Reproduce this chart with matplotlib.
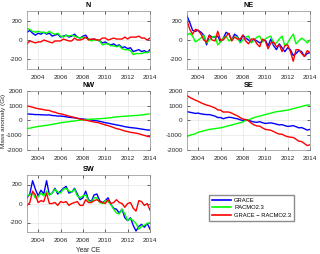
import numpy as np
import matplotlib
matplotlib.use('Agg')
import matplotlib.pyplot as plt

plt.rcParams['font.family'] = ['Liberation Sans', 'DejaVu Sans']
plt.rcParams['font.size'] = 4.6

# quarterly sampling 2003.0 .. 2014.0
years = np.arange(2003.0, 2014.01, 0.25)

# GRACE and RACMO2.3 mass anomalies (Gt)
N_grace = [80, 100, 70, 50, 70, 60, 80, 60, 70, 40, 50, 60, 30, 40, 50, 30,
           40, 60, 30, 20, 40, 50, 10, 0, 10, 0, -10, -30, -20, -40, -50, -40,
           -60, -50, -80, -70, -90, -80, -120, -110, -100, -120, -110, -130, -100]
N_racmo = [120, 110, 90, 80, 90, 80, 80, 70, 90, 70, 60, 70, 40, 30, 50, 40,
           50, 40, 30, 20, 30, 20, 10, -10, 0, 0, -10, -50, -40, -40, -60, -60,
           -70, -60, -90, -100, -100, -110, -150, -140, -140, -140, -130, -130, -120]

NE_grace = [250, 180, 100, 90, 100, 80, 50, -50, 50, 30, 30, 40, -20, 20, 80, 60,
            0, 60, 40, -20, 50, 20, 0, -20, 10, -10, -30, -10, 0, -60, 10, -60,
            -100, -40, -80, -120, -80, -100, -160, -140, -110, -120, -170, -140, -130]
NE_racmo = [50, 70, 40, -20, 0, 20, 50, -30, 0, 30, 40, -50, -20, 20, 40, -10,
            10, 30, 30, -30, 0, 30, 40, -30, 0, 30, 40, -20, 10, 30, 40, -40,
            -30, 10, 40, -60, -30, 20, 60, -40, -10, 20, 0, -30, 0]

NW_grace = [450, 430, 420, 400, 400, 390, 380, 370, 380, 340, 330, 300, 300, 280, 250, 220,
            200, 180, 150, 120, 100, 80, 60, 30, 0, -20, -60, -100, -150, -180, -220, -260,
            -300, -330, -370, -420, -450, -480, -500, -520, -550, -580, -610, -640, -650]
NW_racmo = [-550, -520, -480, -440, -400, -380, -350, -330, -300, -260, -230, -190, -150, -130, -100, -80,
            -50, -30, 0, 20, 50, 60, 80, 90, 100, 110, 120, 140, 150, 170, 190, 220,
            250, 260, 280, 290, 300, 320, 330, 340, 350, 380, 400, 430, 450]

SE_grace = [600, 560, 520, 480, 500, 450, 420, 400, 400, 350, 300, 200, 200, 120, 180, 220,
            200, 150, 120, 50, 0, 60, 30, -60, -100, -120, -80, -150, -200, -180, -160, -200,
            -250, -300, -280, -350, -400, -380, -350, -420, -500, -480, -560, -650, -600]
SE_racmo = [-1100, -1000, -950, -900, -800, -750, -700, -650, -600, -580, -550, -520, -500, -450, -400, -350,
            -300, -250, -200, -150, -100, 0, 50, 120, 200, 250, 300, 350, 400, 450, 500, 550,
            600, 620, 650, 680, 700, 750, 800, 850, 900, 950, 1000, 1050, 1050]

SW_grace = [60, 100, 240, 150, 80, 140, 100, 240, 90, 110, 160, 100, 130, 160, 180, 110,
            120, 160, 100, 40, 60, 130, 40, 20, 90, 100, 30, 10, 30, 60, -10, -50,
            -60, -100, -60, -150, -180, -150, -230, -290, -240, -220, -250, -210, -270]
SW_racmo = [80, 90, 110, 60, 70, 110, 80, 130, 90, 110, 150, 120, 110, 150, 160, 130,
            120, 150, 80, 60, 80, 90, 30, 10, 60, 60, 10, 0, 30, 20, -10, -60,
            -100, -110, -60, -110, -180, -160, -180, -210, -270, -240, -230, -210, -200]

regions = ['N', 'NE', 'NW', 'SE', 'SW']
grace = [N_grace, NE_grace, NW_grace, SE_grace, SW_grace]
racmo = [N_racmo, NE_racmo, NW_racmo, SE_racmo, SW_racmo]
ylims = [300, 300, 2000, 2000, 300]
yticks = [[-200, 0, 200], [-200, 0, 200], [-2000, -1000, 0, 1000, 2000],
          [-2000, -1000, 0, 1000, 2000], [-200, 0, 200]]

fig = plt.figure(figsize=(3.2, 2.54), dpi=100)
W, H = 320.0, 254.0
cols = [27, 187]
rows = [(11, 69), (91, 150), (175, 232)]

tick_col = '#262626'
handles = []
for i, reg in enumerate(regions):
    c = cols[i % 2]
    top, bot = rows[i // 2]
    ax = fig.add_axes([c / W, 1 - bot / H, 123 / W, (bot - top) / H])
    g = np.array(grace[i], dtype=float)
    r = np.array(racmo[i], dtype=float)
    h1, = ax.plot(years, g, color='#0000ff', lw=1.0)
    h2, = ax.plot(years, r, color='#00ff00', lw=1.0)
    h3, = ax.plot(years, g - r, color='#ff0000', lw=1.0)
    handles = [h1, h2, h3]
    ax.set_xlim(2003, 2014)
    ax.set_ylim(-ylims[i], ylims[i])
    ax.set_xticks([2004, 2006, 2008, 2010, 2012, 2014])
    ax.set_yticks(yticks[i])
    ax.set_yticklabels([str(v) for v in yticks[i]])
    ax.grid(True, color='#e6e6e6', lw=0.5)
    ax.set_axisbelow(True)
    ax.tick_params(direction='in', length=2, width=0.5, colors=tick_col,
                   labelsize=4.6, top=True, right=True)
    ax.tick_params(axis='x', pad=4)
    ax.tick_params(axis='y', pad=3)
    for s in ax.spines.values():
        s.set_color('#8c8c8c')
        s.set_linewidth(0.5)
    ax.set_title(reg, fontsize=5.2, fontweight='bold', pad=3)
    if reg == 'NW':
        ax.set_ylabel('Mass anomaly (Gt)', fontsize=4.6, color=tick_col)
        ax.yaxis.set_label_coords(-21 / 123, 0.5)
    if reg == 'SW':
        ax.set_xlabel('Year CE', fontsize=4.8, color=tick_col)
        ax.xaxis.set_label_coords(0.5, -15 / 57)

fig.legend(handles, ['GRACE', 'RACMO2.3', 'GRACE \u2212 RACMO2.3'],
           loc='upper left', bbox_to_anchor=(209 / W, 1 - 195 / H),
           fontsize=4.2, frameon=True, fancybox=False, edgecolor='#8c8c8c',
           framealpha=1, handlelength=3.3, handletextpad=0.5, borderpad=0.5,
           labelspacing=0.4, borderaxespad=0)
for ln in fig.legends[0].get_lines():
    ln.set_linewidth(1.2)

fig.savefig('out.png', dpi=100)
